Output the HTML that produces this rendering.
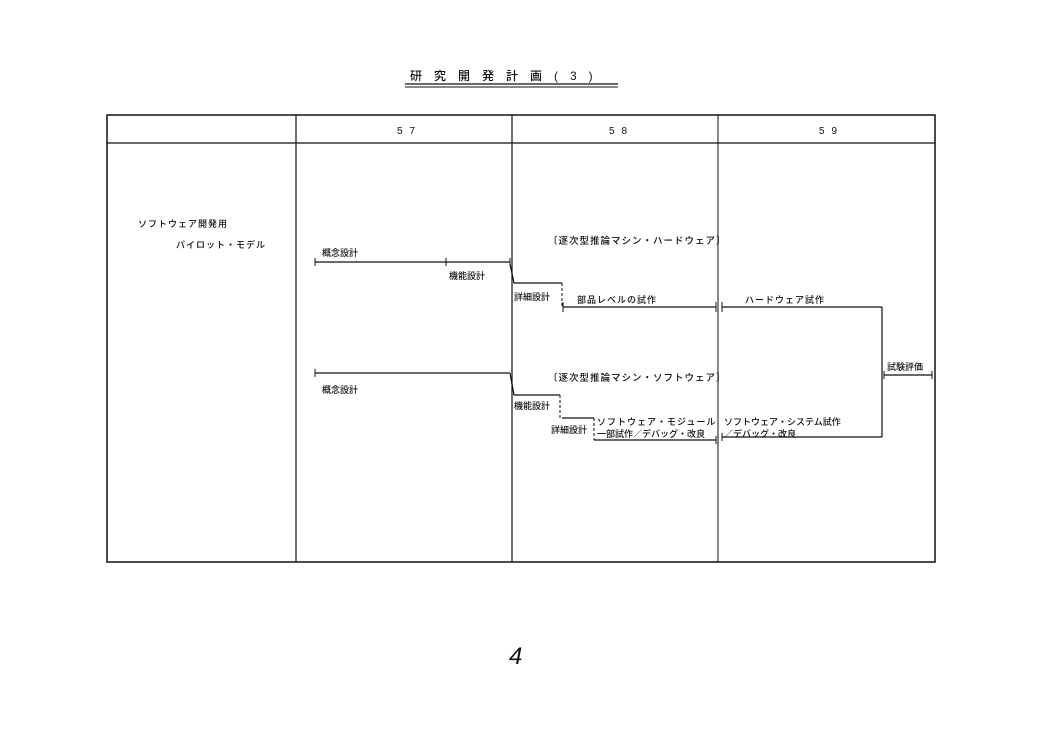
<!DOCTYPE html>
<html><head><meta charset="utf-8"><style>
html,body{margin:0;padding:0;background:#fff;}
svg text{font-family:"Liberation Sans","Noto Sans CJK JP",sans-serif;fill:#111;font-weight:500;}
</style></head><body>
<svg width="1054" height="750" viewBox="0 0 1054 750" xmlns="http://www.w3.org/2000/svg">
<g stroke="#111" fill="none">
<line x1="405" y1="84" x2="618" y2="84" stroke-width="1.2"/>
<line x1="405" y1="87" x2="618" y2="87" stroke-width="1"/>
<rect x="107" y="115" width="828" height="447" stroke-width="1.5"/>
<line x1="107" y1="143" x2="935" y2="143" stroke-width="1.2"/>
<line x1="296" y1="115" x2="296" y2="562" stroke-width="1.2"/>
<line x1="512" y1="115" x2="512" y2="562" stroke-width="1.2"/>
<line x1="718" y1="115" x2="718" y2="562" stroke-width="1"/>
<line x1="315" y1="262" x2="510" y2="262" stroke-width="1.3"/>
<line x1="315" y1="258" x2="315" y2="266"/><line x1="446" y1="258" x2="446" y2="266"/><line x1="510" y1="258" x2="510" y2="266"/>
<polyline points="510,264 514,283 562,283" stroke-width="1.2"/>
<line x1="562" y1="283" x2="562" y2="307" stroke-dasharray="3,2"/>
<line x1="563" y1="307" x2="716" y2="307" stroke-width="1.2"/>
<line x1="563" y1="302" x2="563" y2="312"/><line x1="716" y1="302" x2="716" y2="312"/>
<line x1="722" y1="307" x2="882" y2="307" stroke-width="1.2"/>
<line x1="722" y1="302" x2="722" y2="312"/>
<line x1="882" y1="307" x2="882" y2="437" stroke-width="1.2"/>
<line x1="884" y1="375" x2="932" y2="375" stroke-width="1.2"/>
<line x1="884" y1="371" x2="884" y2="379"/><line x1="932" y1="371" x2="932" y2="379"/>
<line x1="315" y1="373" x2="510" y2="373" stroke-width="1.3"/>
<line x1="315" y1="369" x2="315" y2="377"/>
<polyline points="510,373 514,395 560,395" stroke-width="1.2"/>
<line x1="560" y1="395" x2="560" y2="418" stroke-dasharray="3,2"/>
<line x1="562" y1="418" x2="594" y2="418" stroke-width="1.2"/>
<line x1="594" y1="418" x2="594" y2="440" stroke-dasharray="3,2"/>
<line x1="594" y1="440" x2="716" y2="440" stroke-width="1.2"/>
<line x1="716" y1="436" x2="716" y2="444"/>
<line x1="722" y1="437" x2="882" y2="437" stroke-width="1.2"/>
<line x1="722" y1="433" x2="722" y2="441"/>
</g>
<text x="410" y="80" font-size="12" font-weight="bold" letter-spacing="12">研究開発計画(3)</text>
<text x="397" y="134" font-size="10" letter-spacing="7">57</text>
<text x="609" y="134" font-size="10" letter-spacing="7">58</text>
<text x="819" y="134" font-size="10" letter-spacing="7">59</text>
<text x="138" y="227" font-size="9" letter-spacing="1">ソフトウェア開発用</text>
<text x="176" y="248" font-size="9" letter-spacing="1">パイロット・モデル</text>
<text x="322" y="256" font-size="9">概念設計</text>
<text x="449" y="279" font-size="9">機能設計</text>
<text x="514" y="300" font-size="9">詳細設計</text>
<text x="577" y="303" font-size="9" letter-spacing="1">部品レベルの試作</text>
<text x="548" y="244" font-size="9.5" letter-spacing="1">〔逐次型推論マシン・ハードウェア〕</text>
<text x="745" y="303" font-size="9" letter-spacing="1">ハードウェア試作</text>
<text x="887" y="370" font-size="9">試験評価</text>
<text x="322" y="393" font-size="9">概念設計</text>
<text x="548" y="381" font-size="9.5" letter-spacing="1">〔逐次型推論マシン・ソフトウェア〕</text>
<text x="514" y="409" font-size="9">機能設計</text>
<text x="551" y="433" font-size="9">詳細設計</text>
<text x="597" y="425" font-size="9" letter-spacing="1">ソフトウェア・モジュール</text>
<text x="597" y="437" font-size="9">一部試作／デバッグ・改良</text>
<text x="724" y="425" font-size="9">ソフトウェア・システム試作</text>
<text x="724" y="437" font-size="9">／デバッグ・改良</text>
<text x="509" y="664" font-size="24" font-weight="normal" font-style="italic" font-family="Liberation Sans, sans-serif" style="font-weight:100">4</text>
</svg>
</body></html>
